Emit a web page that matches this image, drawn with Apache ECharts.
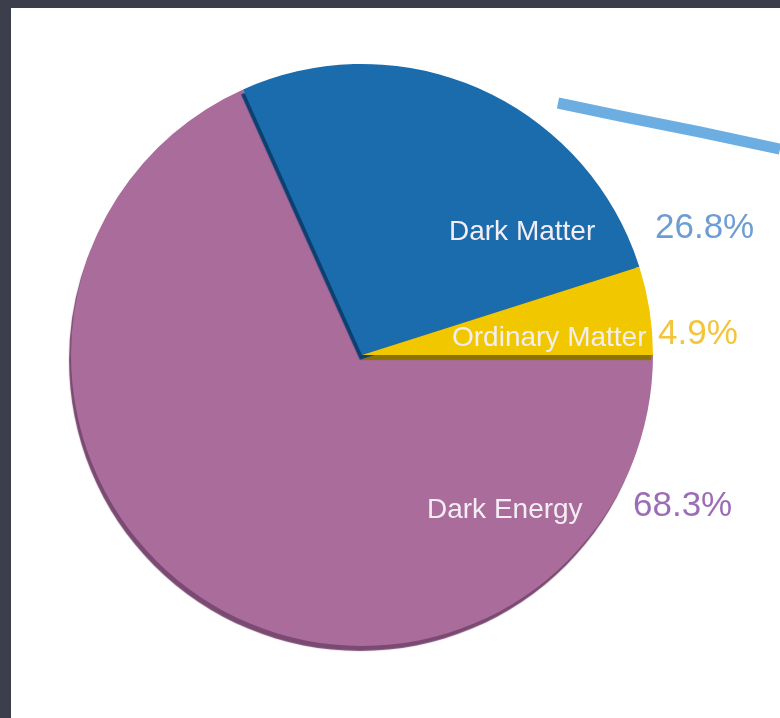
<!DOCTYPE html>
<html style="height: 100%">
<head>
<meta charset="utf-8">
</head>
<body style="height: 100%; margin: 0">
	<div id="container" style="width: 780px; height: 718px"></div>
	<script type="text/javascript"
		src="https://cdn.jsdelivr.net/npm/echarts/dist/echarts.min.js"></script>
	<script type="text/javascript">
		// drawn in this order so the small slices' rims lie on top of the big one
		var categories = [ 'Dark Energy', 'Dark Matter', 'Ordinary Matter' ];
		var shares = [ 68.3, 26.8, 4.9 ];

		var sliceColors = [ '#a96c9b', '#1b6cad', '#f1c800' ];
		var rimColors = [ '#7b4a72', '#0d3f70', '#8a7400' ];
		var valueColors = [ '#9c6db7', '#6d9dd5', '#f4c43c' ];
		// left edge of the name text and middle of each label row
		var labelAt = [ [ 427, 510 ], [ 449, 232 ], [ 452, 338 ] ];

		var dom = document.getElementById("container");
		var myChart = echarts.init(dom);

		var data = [];
		for (var i = 0; i < categories.length; i++) {
			data.push({
				name : categories[i],
				value : shares[i],
				itemStyle : {
					color : sliceColors[i],
					shadowColor : rimColors[i],
					shadowOffsetX : -2,
					shadowOffsetY : 5,
					shadowBlur : 1
				},
				label : {
					rich : {
						v : {
							color : valueColors[i],
							fontSize : 35,
							fontFamily : 'Liberation Sans',
							padding : [ 0, 0, 7, 0 ]
						}
					}
				}
			});
		}

		var option = {
			backgroundColor : '#3c3e4b',
			animation : false,
			graphic : [ {
				type : 'rect',
				z : -10,
				shape : {
					x : 11,
					y : 8,
					width : 769,
					height : 710
				},
				style : {
					fill : '#ffffff'
				}
			}, {
				type : 'polyline',
				shape : {
					points : [ [ 558, 103 ], [ 620, 116 ], [ 700, 132 ],
							[ 780, 149 ] ]
				},
				style : {
					stroke : '#6daee2',
					lineWidth : 11,
					fill : null
				}
			} ],
			series : [ {
				type : 'pie',
				center : [ 362, 355 ],
				radius : [ 0, 291 ],
				startAngle : 0,
				clockwise : true,
				silent : true,
				itemStyle : {
					borderWidth : 0
				},
				label : {
					show : true,
					position : 'inside',
					formatter : '{n|{b}}{v|{c}%}',
					rich : {
						n : {
							color : '#f4eef4',
							fontSize : 28,
							fontFamily : 'Liberation Sans',
							width : 206
						}
					}
				},
				labelLine : {
					show : false
				},
				labelLayout : function(params) {
					var p = labelAt[params.dataIndex];
					return {
						x : p[0],
						y : p[1],
						align : 'left',
						verticalAlign : 'middle'
					};
				},
				data : data
			} ]
		};
		myChart.setOption(option);
	</script>
</body>
</html>
